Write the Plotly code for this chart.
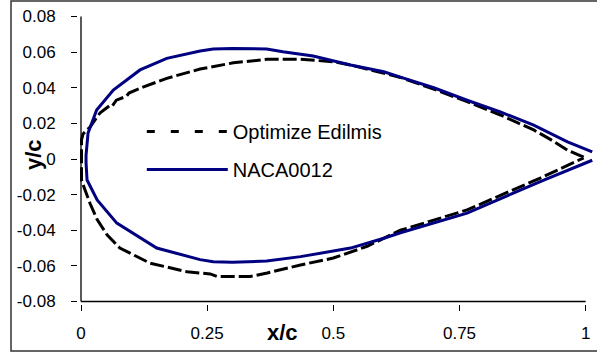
import plotly.graph_objects as go

# ---- data ----
# NACA0012 contour (upper surface TE -> LE, then lower surface LE -> TE)
naca_x = [1.013, 0.964, 0.897, 0.831, 0.765, 0.699, 0.633, 0.60, 0.534, 0.46, 0.40, 0.368, 0.30, 0.262,
          0.236, 0.17, 0.117, 0.064, 0.031, 0.014, 0.010,
          0.010, 0.012, 0.032, 0.071, 0.15, 0.236, 0.262, 0.30, 0.368, 0.435, 0.534, 0.60, 0.633,
          0.765, 0.917, 1.013]
naca_y = [0.0040, 0.0096, 0.0190, 0.0264, 0.0330, 0.0400, 0.0460, 0.0490, 0.0528, 0.0578, 0.0602, 0.0618, 0.0620, 0.0618,
          0.0606, 0.0565, 0.0500, 0.0387, 0.0275, 0.0146, 0.0020,
          -0.0020, -0.0118, -0.0230, -0.0360, -0.0500, -0.0565, -0.0577, -0.0580, -0.0573, -0.0548, -0.0500, -0.0445, -0.0414,
          -0.0304, -0.0118, -0.0007]

# Optimized contour
opt_x = [0.996, 0.964, 0.930, 0.897, 0.831, 0.765, 0.699, 0.633, 0.534, 0.500, 0.435, 0.369, 0.302, 0.236,
         0.170, 0.124, 0.095, 0.090, 0.070, 0.062, 0.058, 0.050, 0.038, 0.018, 0.004, 0.001, 0.001,
         0.001, 0.008, 0.018, 0.032, 0.052, 0.077, 0.137, 0.210, 0.236, 0.256, 0.270, 0.335, 0.369,
         0.435, 0.500, 0.567, 0.633, 0.765, 0.910, 0.996]
opt_y = [0.0010, 0.0050, 0.0110, 0.0163, 0.0247, 0.0322, 0.0392, 0.0458, 0.0528, 0.0546, 0.0560, 0.0560, 0.0540, 0.0505,
         0.0453, 0.0405, 0.0370, 0.0352, 0.0330, 0.0298, 0.0302, 0.0285, 0.0260, 0.0180, 0.0140, 0.0107, 0.0000,
         -0.0118, -0.0174, -0.0250, -0.0340, -0.0427, -0.0500, -0.0585, -0.0633, -0.0640, -0.0645, -0.0660, -0.0660, -0.0640,
         -0.0595, -0.0556, -0.0490, -0.0400, -0.0286, -0.0107, 0.0006]

x_ticks = [0, 0.25, 0.5, 0.75, 1]
x_labels = ["0", "0.25", "0.5", "0.75", "1"]
y_ticks = [0.08, 0.06, 0.04, 0.02, 0, -0.02, -0.04, -0.06, -0.08]
y_labels = ["0.08", "0.06", "0.04", "0.02", "0", "-0.02", "-0.04", "-0.06", "-0.08"]

FONT = "Liberation Sans, Arial, sans-serif"

fig = go.Figure()
# legend-only sample for the dashed series
fig.add_trace(go.Scatter(x=[None], y=[None], mode="lines", name="Optimize Edilmis",
                         line=dict(color="black", width=3, dash="8px,16px"),
                         legendgroup="a"))
fig.add_trace(go.Scatter(x=opt_x, y=opt_y, mode="lines", name="Optimize Edilmis",
                         line=dict(color="black", width=3, dash="14px,4px"),
                         showlegend=False, legendgroup="a"))
fig.add_trace(go.Scatter(x=naca_x, y=naca_y, mode="lines", name="NACA0012",
                         line=dict(color="#000080", width=3), legendgroup="b"))

L, R, T, B = 78, 4, 14, 52
pw, ph = 597 - L - R, 356 - T - B
fig.update_layout(
    width=597, height=356,
    margin=dict(l=L, r=R, t=T, b=B, pad=0),
    paper_bgcolor="white", plot_bgcolor="white",
    font=dict(family=FONT, size=17, color="black"),
    showlegend=True,
    legend=dict(x=0.12 + 2 / pw, y=0.645 + 5 / ph, xanchor="left", yanchor="top",
                bgcolor="rgba(0,0,0,0)", font=dict(family=FONT, size=20, color="black"),
                itemwidth=81, traceorder="grouped", tracegroupgap=9),
    xaxis=dict(range=[-0.00594, 1.0145], showgrid=False, zeroline=False, showline=False,
               tickmode="array", tickvals=x_ticks, ticktext=x_labels,
               ticks="outside", ticklen=6, tickwidth=1.3, tickcolor="black",
               tickfont=dict(family=FONT, size=17, color="black"), ticklabelstandoff=8),
    yaxis=dict(range=[-0.0814, 0.0814], showgrid=False, zeroline=False, showline=False,
               tickmode="array", tickvals=y_ticks, ticktext=y_labels,
               ticks="outside", ticklen=6, tickwidth=1.3, tickcolor="black",
               tickfont=dict(family=FONT, size=17, color="black"), ticklabelstandoff=12),
)

# axis lines (left and bottom only)
fig.add_shape(type="line", xref="x", yref="y", x0=0, x1=0, y0=-0.08, y1=0.08,
              line=dict(color="black", width=1.3))
fig.add_shape(type="line", xref="x", yref="y", x0=0, x1=1, y0=-0.08, y1=-0.08,
              line=dict(color="black", width=1.3))

# outer chart border (right side runs off the picture)
fig.add_shape(type="rect", xref="paper", yref="paper",
              x0=(11 - L) / pw, x1=(603 - L) / pw,
              y0=(356 - B - 351) / ph, y1=(356 - B - 1) / ph,
              line=dict(color="#333333", width=1.5), layer="below")

# axis titles
fig.add_annotation(text="<b>x/c</b>", xref="x", yref="paper", x=0.40, y=(356 - B - 332) / ph,
                   showarrow=False, font=dict(family=FONT, size=22, color="black"),
                   xanchor="center", yanchor="middle")
fig.add_annotation(text="<b>y/c</b>", xref="paper", yref="paper", x=(33 - L) / pw, y=(356 - B - 155) / ph,
                   showarrow=False, textangle=-90, font=dict(family=FONT, size=22, color="black"),
                   xanchor="center", yanchor="middle")

fig.write_html("out.html", config={"displayModeBar": False},
               post_script="document.body.style.margin='0';document.body.style.overflow='hidden';")
